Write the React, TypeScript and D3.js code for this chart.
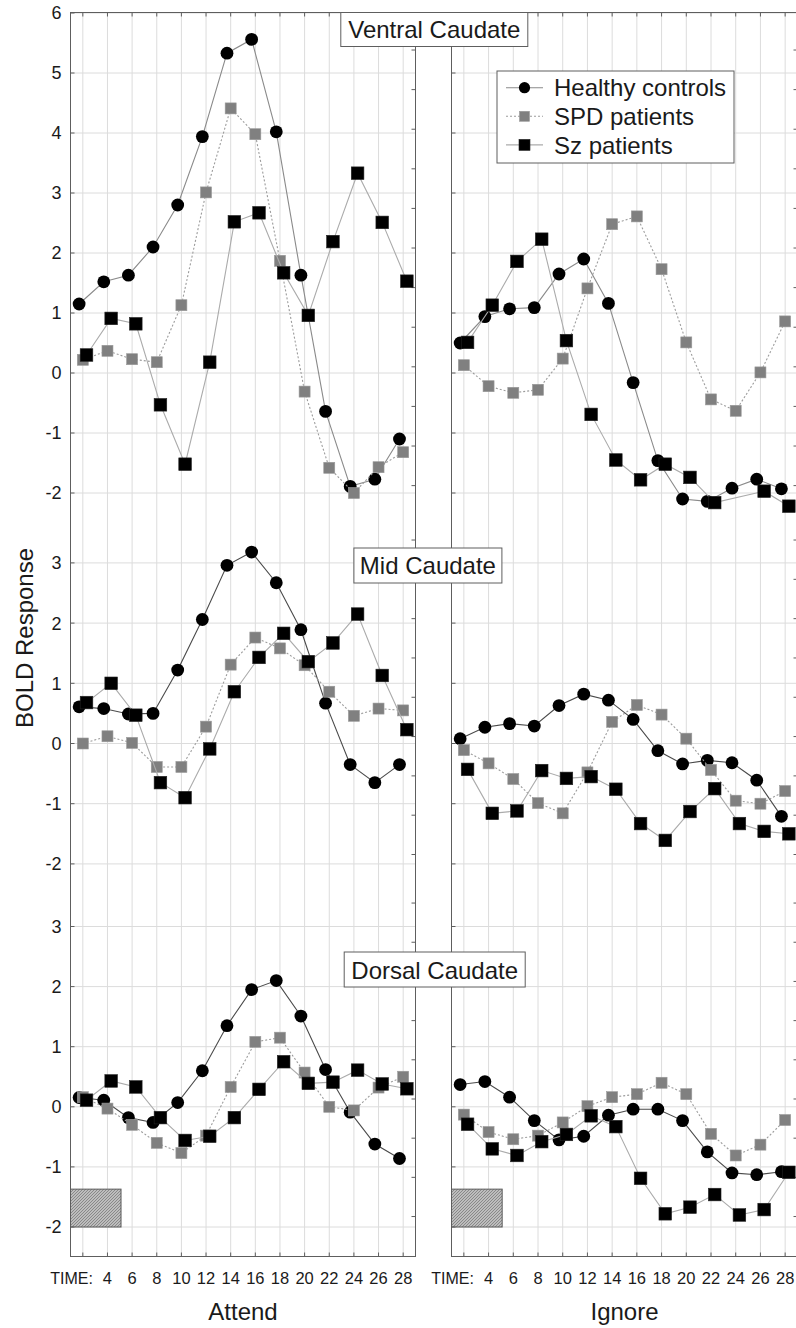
import React from 'react';
import * as d3 from 'd3';

const W = 796;
const H = 1328;
const FONT = '"Liberation Sans", Arial, Helvetica, sans-serif';

// ---------- data ----------
const times = [2, 4, 6, 8, 10, 12, 14, 16, 18, 20, 22, 24, 26, 28];
const xTickValues = [4, 6, 8, 10, 12, 14, 16, 18, 20, 22, 24, 26, 28];
const xTickTitle = 'TIME:';
const groups = ['Healthy controls', 'SPD patients', 'Sz patients'];
const regions = ['Ventral Caudate', 'Mid Caudate', 'Dorsal Caudate'];
const conditions = ['Attend', 'Ignore'];
const yTicksTop = [6, 5, 4, 3, 2, 1, 0, -1, -2];
const yTicksMid = [3, 2, 1, 0, -1, -2];
const yTicksBottom = [3, 2, 1, 0, -1, -2];
const stimulusTime = [1, 5.1];
const stimulusLevel = [-2, -1.37];

const ventralAttendHC = [1.15, 1.52, 1.63, 2.1, 2.8, 3.94, 5.33, 5.56, 4.02, 1.63, -0.64, -1.89, -1.77, -1.1];
const ventralAttendSPD = [0.22, 0.37, 0.23, 0.18, 1.13, 3.01, 4.41, 3.98, 1.87, -0.31, -1.58, -2.0, -1.57, -1.32];
const ventralAttendSZ = [0.3, 0.91, 0.82, -0.53, -1.52, 0.18, 2.52, 2.67, 1.67, 0.96, 2.19, 3.33, 2.51, 1.53];

const ventralIgnoreHC = [0.5, 0.94, 1.07, 1.09, 1.65, 1.9, 1.16, -0.16, -1.46, -2.1, -2.14, -1.92, -1.77, -1.93];
const ventralIgnoreSPD = [0.13, -0.22, -0.33, -0.28, 0.24, 1.41, 2.48, 2.61, 1.73, 0.51, -0.44, -0.63, 0.01, 0.86];
const ventralIgnoreSZ = [0.51, 1.13, 1.86, 2.23, 0.54, -0.69, -1.45, -1.78, -1.52, -1.74, -2.16, null, -1.97, -2.22];

const midAttendHC = [0.61, 0.58, 0.49, 0.5, 1.22, 2.06, 2.96, 3.18, 2.67, 1.89, 0.67, -0.35, -0.65, -0.35];
const midAttendSPD = [0.0, 0.12, 0.01, -0.39, -0.39, 0.28, 1.31, 1.76, 1.58, 1.3, 0.86, 0.46, 0.58, 0.55];
const midAttendSZ = [0.68, 1.0, 0.47, -0.65, -0.9, -0.09, 0.86, 1.43, 1.83, 1.36, 1.67, 2.15, 1.13, 0.23];

const midIgnoreHC = [0.08, 0.27, 0.33, 0.29, 0.63, 0.82, 0.72, 0.4, -0.12, -0.34, -0.28, -0.32, -0.61, -1.21];
const midIgnoreSPD = [-0.11, -0.33, -0.59, -0.99, -1.16, -0.48, 0.36, 0.64, 0.48, 0.08, -0.44, -0.95, -1.0, -0.79];
const midIgnoreSZ = [-0.43, -1.16, -1.12, -0.45, -0.58, -0.55, -0.76, -1.33, -1.61, -1.13, -0.75, -1.33, -1.46, -1.5];

const dorsalAttendHC = [0.155, 0.11, -0.18, -0.26, 0.07, 0.6, 1.35, 1.95, 2.1, 1.51, 0.62, -0.09, -0.62, -0.86];
const dorsalAttendSPD = [0.16, -0.03, -0.3, -0.6, -0.77, -0.48, 0.33, 1.08, 1.15, 0.57, 0.0, -0.06, 0.32, 0.5];
const dorsalAttendSZ = [0.11, 0.43, 0.33, -0.18, -0.56, -0.49, -0.18, 0.29, 0.75, 0.39, 0.41, 0.61, 0.38, 0.3];

const dorsalIgnoreHC = [0.37, 0.42, 0.16, -0.23, -0.55, -0.49, -0.14, -0.04, -0.04, -0.23, -0.75, -1.1, -1.13, -1.08];
const dorsalIgnoreSPD = [-0.13, -0.42, -0.54, -0.48, -0.26, 0.01, 0.16, 0.21, 0.4, 0.21, -0.45, -0.81, -0.63, -0.22];
const dorsalIgnoreSZ = [-0.29, -0.7, -0.81, -0.58, -0.46, -0.15, -0.33, -1.19, -1.78, -1.67, -1.46, -1.8, -1.71, -1.09];

// table built from the arrays: [row][panel][group]
const table = [
  [
    [ventralAttendHC, ventralAttendSPD, ventralAttendSZ],
    [ventralIgnoreHC, ventralIgnoreSPD, ventralIgnoreSZ],
  ],
  [
    [midAttendHC, midAttendSPD, midAttendSZ],
    [midIgnoreHC, midIgnoreSPD, midIgnoreSZ],
  ],
  [
    [dorsalAttendHC, dorsalAttendSPD, dorsalAttendSZ],
    [dorsalIgnoreHC, dorsalIgnoreSPD, dorsalIgnoreSZ],
  ],
];

// ---------- layout / style ----------
const FRAME_TOP = 12.5;
const FRAME_BOTTOM = 1256.5;
const panelRanges = [
  [70.5, 415.5],
  [451.5, 797.5],
];
const rowLayout = [
  { domain: [-2, 6], range: [493, 13], ticks: yTicksTop, right: { start: 5.383, step: 0.66, n: 12 }, hcColor: '#8a8a8a' },
  { domain: [-2, 3], range: [863.9, 562.9], ticks: yTicksMid, right: { start: 3.38, step: 0.653, n: 9 }, hcColor: '#4a4a4a' },
  { domain: [-2, 3], range: [1227, 926.5], ticks: yTicksBottom, right: { start: 3.39, step: 0.652, n: 9 }, hcColor: '#4a4a4a' },
];
const titleBoxes = [
  { cx: 434.3, y: 12.5, w: 187, h: 34, base: 37.5 },
  { cx: 427.9, y: 548, w: 148, h: 35, base: 573.5 },
  { cx: 434.7, y: 952, w: 181, h: 35, base: 978.5 },
];
const groupOffset = [-0.3, 0, 0.3];
const GRID = '#dcdcdc';
const FRAME = '#5e5e5e';
const TEXT = '#1a1a1a';

function Marker({ g, x, y, small }: { g: number; x: number; y: number; small?: boolean }) {
  if (g === 0) return <circle cx={x} cy={y} r={small ? 5.6 : 6.4} fill="#000" />;
  const s = g === 1 ? (small ? 10 : 11) : small ? 11 : 12.6;
  return (
    <rect
      x={x - s / 2}
      y={y - s / 2}
      width={s}
      height={s}
      fill={g === 1 ? '#808080' : '#000'}
      stroke={g === 1 ? '#9a9a9a' : '#222'}
      strokeWidth={0.6}
    />
  );
}

function lineStyle(g: number, hcColor: string) {
  if (g === 0) return { stroke: hcColor, strokeWidth: 1.1, dash: undefined as string | undefined };
  if (g === 1) return { stroke: '#9c9c9c', strokeWidth: 1.1, dash: '2,2' };
  return { stroke: '#ababab', strokeWidth: 1.1, dash: undefined as string | undefined };
}

export default function App() {
  const xScales = panelRanges.map((r) => d3.scaleLinear().domain([1, 29]).range(r));
  const yScales = rowLayout.map((l) => d3.scaleLinear().domain(l.domain).range(l.range));

  const panels = panelRanges.map((pr, p) => {
    const x = xScales[p];
    return (
      <g key={'panel' + p}>
        {times.map((t) => (
          <line key={'vg' + t} x1={x(t)} x2={x(t)} y1={FRAME_TOP} y2={FRAME_BOTTOM} stroke={GRID} strokeWidth={1} />
        ))}
        {rowLayout.map((l, r) =>
          l.ticks.map((v) => (
            <line key={'hg' + r + '_' + v} x1={pr[0]} x2={pr[1]} y1={yScales[r](v)} y2={yScales[r](v)} stroke={GRID} strokeWidth={1} />
          ))
        )}
        <rect
          x={x(stimulusTime[0])}
          y={yScales[2](stimulusLevel[1])}
          width={x(stimulusTime[1]) - x(stimulusTime[0])}
          height={yScales[2](stimulusLevel[0]) - yScales[2](stimulusLevel[1])}
          fill="url(#hatch)"
          stroke="#5a5a5a"
          strokeWidth={1}
        />
        <rect x={pr[0]} y={FRAME_TOP} width={pr[1] - pr[0]} height={FRAME_BOTTOM - FRAME_TOP} fill="none" stroke={FRAME} strokeWidth={1} />
        {times.map((t) => (
          <g key={'xt' + t}>
            <line x1={x(t)} x2={x(t)} y1={FRAME_TOP} y2={FRAME_TOP + 4} stroke={FRAME} />
            <line x1={x(t)} x2={x(t)} y1={FRAME_BOTTOM} y2={FRAME_BOTTOM - 4} stroke={FRAME} />
          </g>
        ))}
        {rowLayout.map((l, r) =>
          l.ticks.map((v) => (
            <line key={'lt' + r + '_' + v} x1={pr[0]} x2={pr[0] + 4} y1={yScales[r](v)} y2={yScales[r](v)} stroke={FRAME} />
          ))
        )}
        {rowLayout.map((l, r) =>
          d3.range(l.right.n).map((k) => {
            const yy = yScales[r](l.right.start - k * l.right.step);
            return <line key={'rt' + r + '_' + k} x1={pr[1]} x2={pr[1] - 4} y1={yy} y2={yy} stroke={FRAME} />;
          })
        )}
        <text x={x(1) + 1} y={1284} textAnchor="middle" fontSize={16} fill={TEXT}>
          {xTickTitle}
        </text>
        {xTickValues.map((t) => (
          <text key={'xl' + t} x={x(t)} y={1284} textAnchor="middle" fontSize={16.5} fill={TEXT}>
            {t}
          </text>
        ))}
        <text x={(pr[0] + pr[1]) / 2} y={1320} textAnchor="middle" fontSize={24} fill={TEXT}>
          {conditions[p]}
        </text>
        {rowLayout.map((l, r) => {
          const y = yScales[r];
          return (
            <g key={'series' + r}>
              {table[r][p].map((vals, g) => {
                const pts = times
                  .map((t, i) => ({ t, v: vals[i] }))
                  .filter((d) => d.v !== null && d.v !== undefined) as { t: number; v: number }[];
                const line = d3
                  .line<{ t: number; v: number }>()
                  .x((d) => x(d.t + groupOffset[g]))
                  .y((d) => y(d.v));
                const st = lineStyle(g, l.hcColor);
                return (
                  <g key={'g' + g}>
                    <path d={line(pts) || ''} fill="none" stroke={st.stroke} strokeWidth={st.strokeWidth} strokeDasharray={st.dash} />
                    {pts.map((d) => (
                      <Marker key={d.t} g={g} x={x(d.t + groupOffset[g])} y={y(d.v)} />
                    ))}
                  </g>
                );
              })}
            </g>
          );
        })}
      </g>
    );
  });

  return (
    <svg
      width={W}
      height={H}
      viewBox={`0 0 ${W} ${H}`}
      style={{ position: 'absolute', left: 0, top: 0, background: '#fff' }}
      fontFamily={FONT}
    >
      <defs>
        <pattern id="hatch" width={3} height={3} patternUnits="userSpaceOnUse">
          <rect width={3} height={3} fill="#bdbdbd" />
          <path d="M-1,1 L1,-1 M0,3 L3,0 M2,4 L4,2" stroke="#7a7a7a" strokeWidth={0.8} />
        </pattern>
      </defs>
      <rect width={W} height={H} fill="#fff" />
      {panels}
      {rowLayout.map((l, r) =>
        l.ticks.map((v) => (
          <text key={'yl' + r + '_' + v} x={61.5} y={yScales[r](v)} dy="0.36em" textAnchor="end" fontSize={18} fill={TEXT}>
            {v}
          </text>
        ))
      )}
      <text transform="translate(33,638) rotate(-90)" textAnchor="middle" fontSize={24} fill={TEXT}>
        BOLD Response
      </text>
      {titleBoxes.map((b, r) => (
        <g key={'title' + r}>
          <rect x={b.cx - b.w / 2} y={b.y} width={b.w} height={b.h} fill="#fff" stroke={FRAME} strokeWidth={1} />
          <text x={b.cx} y={b.base} textAnchor="middle" fontSize={24} fill={TEXT}>
            {regions[r]}
          </text>
        </g>
      ))}
      <g>
        <rect x={497} y={71} width={237} height={92} fill="#fff" stroke={FRAME} strokeWidth={1} />
        {groups.map((name, g) => {
          const cy = 87.7 + g * 28.6;
          const st = lineStyle(g, '#8a8a8a');
          return (
            <g key={'leg' + g}>
              <line x1={506} x2={543} y1={cy} y2={cy} stroke={st.stroke} strokeWidth={st.strokeWidth} strokeDasharray={st.dash} />
              <Marker g={g} x={524.5} y={cy} small />
              <text x={554} y={cy} dy="0.36em" fontSize={24} fill={TEXT}>
                {name}
              </text>
            </g>
          );
        })}
      </g>
    </svg>
  );
}
